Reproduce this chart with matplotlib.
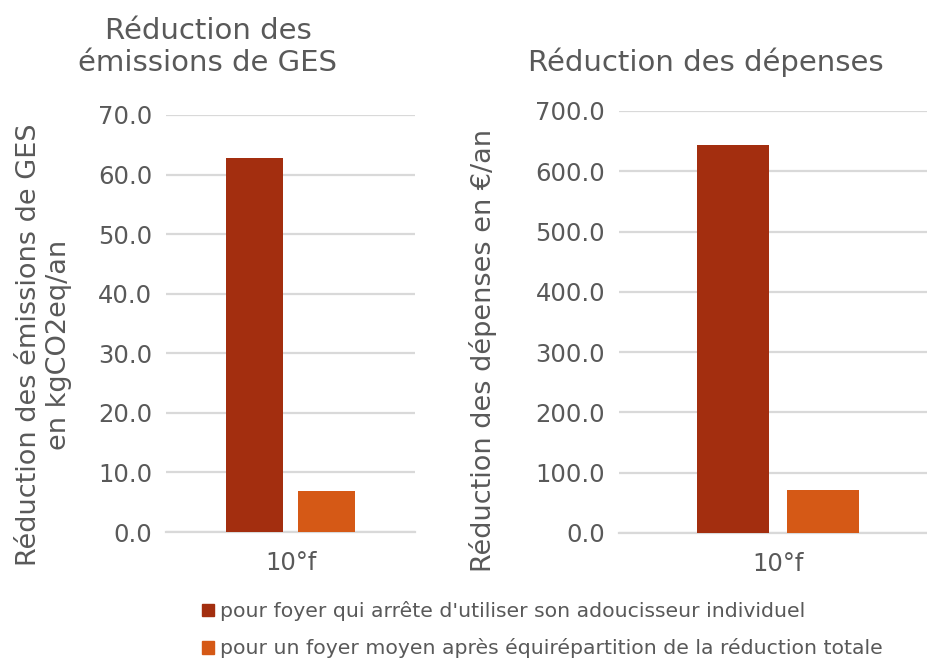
import matplotlib
matplotlib.use("Agg")
import matplotlib.pyplot as plt
from matplotlib.patches import Patch

# data
categories = ["10°f"]
series_names = ["pour foyer qui arrête d'utiliser son adoucisseur individuel",
                "pour un foyer moyen après équirépartition de la réduction totale"]
ges_values = [62.8, 6.9]          # kgCO2eq/an
depenses_values = [643.0, 70.5]   # €/an

C_DARK, C_ORANGE = "#A32E0F", "#D55916"
GRID = "#D9D9D9"
TXT = "#595959"

plt.rcParams["font.family"] = ["DejaVu Sans"]

W, H = 928, 660
fig = plt.figure(figsize=(W / 100, H / 100), dpi=100)


def px_axes(x0, y_top, x1, y_bot):
    return fig.add_axes([x0 / W, (H - y_bot) / H, (x1 - x0) / W, (y_bot - y_top) / H])


def draw(ax, values, ymax, step, width, offsets, xlim):
    colors = [C_DARK, C_ORANGE]
    for i, v in enumerate(values):
        ax.bar(offsets[i], v, width=width, color=colors[i], zorder=3)
    ax.set_xlim(*xlim)
    ax.set_ylim(0, ymax)
    ax.set_yticks([step * k for k in range(int(round(ymax / step)) + 1)])
    ax.yaxis.set_major_formatter(matplotlib.ticker.FormatStrFormatter("%.1f"))
    ax.set_xticks([0])
    ax.set_xticklabels(categories)
    ax.grid(axis="y", color=GRID, lw=1.6, zorder=0)
    for s in ("top", "right", "left"):
        ax.spines[s].set_visible(False)
    ax.spines["bottom"].set_color(GRID)
    ax.spines["bottom"].set_linewidth(1.6)
    ax.tick_params(length=0, labelsize=17.5, colors=TXT, pad=10)
    ax.tick_params(axis="x", pad=14)


ax1 = px_axes(166, 115, 415, 532)
draw(ax1, ges_values, 70, 10, 0.229, [-0.144, 0.145], (-0.5, 0.5))

ax2 = px_axes(619, 111, 928, 533)
draw(ax2, depenses_values, 700, 100, 0.233, [-0.145, 0.146], (-0.515, 0.485))

# axis titles placed in pixels
fig.text(44 / W, 1 - 345 / H, "Réduction des émissions de GES\nen kgCO2eq/an",
         rotation=90, ha="center", va="center", fontsize=19.5, color=TXT,
         linespacing=1.2)
fig.text(483 / W, 1 - 350 / H, "Réduction des dépenses en €/an", rotation=90,
         ha="center", va="center", fontsize=19.5, color=TXT)

fig.text(208 / W, 1 - 47 / H, "Réduction des\némissions de GES", ha="center",
         va="center", fontsize=21, color=TXT, linespacing=1.15)
fig.text(706 / W, 1 - 62 / H, "Réduction des dépenses", ha="center", va="center",
         fontsize=21, color=TXT)

handles = [Patch(color=C_DARK, label=series_names[0]),
           Patch(color=C_ORANGE, label=series_names[1])]
fig.legend(handles=handles, loc="upper left", bbox_to_anchor=(192 / W, 1 - 591 / H),
           frameon=False, fontsize=14.7, labelcolor=TXT, handlelength=0.6,
           handleheight=0.6, handletextpad=0.25, labelspacing=0.84, borderpad=0)

fig.savefig("out.png", dpi=100, facecolor="white")
